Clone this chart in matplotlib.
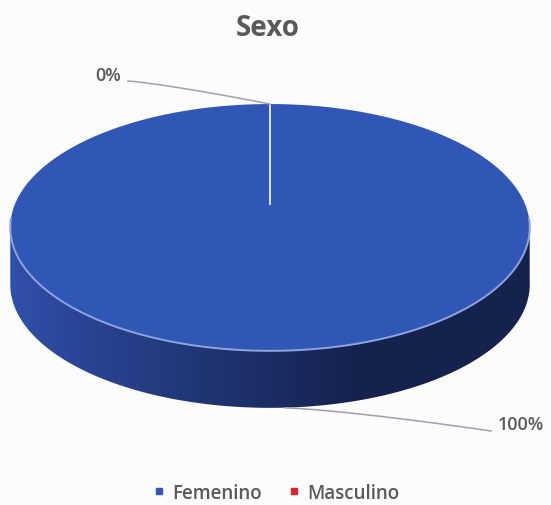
import numpy as np
import matplotlib
matplotlib.use('Agg')
import matplotlib.pyplot as plt
from matplotlib.patches import Polygon
from matplotlib.lines import Line2D

# data
categories = ['Femenino', 'Masculino']
values = [100, 0]
colors = ['#3157b6', '#d9262e']
title = 'Sexo'

W, H = 551, 506
grey = '#595959'

# simple perspective for the pie disk (pixel coords, y down)
cx, cy = 270.0, 205.0
k = -0.19      # perspective strength
a = 255.0      # horizontal radius
b = 80.0
depth = 57.0

def proj(u, v):
  den = 1 + k * v
  return cx + a * u / den, (cy + b * v) / den

def rim(phi):
  # phi in degrees, 0 at the top, clockwise
  r = np.radians(phi)
  return proj(np.sin(r), -np.cos(r))

fig = plt.figure(figsize=(W / 100, H / 100), dpi=100)
fig.patch.set_facecolor('#fcfcfd')
ax = fig.add_axes([0, 0, 1, 1])
ax.set_xlim(0, W)
ax.set_ylim(H, 0)
ax.axis('off')

total = float(sum(values))
fracs = [v / total for v in values]
starts = np.cumsum([0] + fracs[:-1]) * 360
ends = starts + np.array(fracs) * 360

# visible side: front part of the rim
phi_l = np.degrees(np.arcsin(-k)) + 90
phi_r = 360 - phi_l
for s, e, c, f in zip(starts, ends, colors, fracs):
  if f <= 0:
    continue
  lo, hi = max(s, phi_l), min(e, phi_r)
  if hi <= lo:
    continue
  ph = np.linspace(lo, hi, 200)
  xs, ys = rim(ph)
  pts = np.concatenate([np.column_stack([xs, ys]),
                        np.column_stack([xs, ys + depth])[::-1]])
  side = Polygon(pts, closed=True, facecolor='none', edgecolor='none')
  ax.add_patch(side)
  # gradient: lighter on the left, dark navy to the right
  grad = np.linspace(0, 1, 256)
  c0 = np.array([48, 80, 172]) / 255
  c1 = np.array([22, 34, 78]) / 255
  t = np.clip(grad * 1.5, 0, 1) ** 0.9
  img = (c0[None, :] * (1 - t[:, None]) + c1[None, :] * t[:, None])[None, :, :]
  im = ax.imshow(img, extent=[xs.min(), xs.max(), ys.max() + depth, ys.min()],
                 aspect='auto', zorder=1, interpolation='bilinear')
  im.set_clip_path(side)

# top faces
for s, e, c, f in zip(starts, ends, colors, fracs):
  if f <= 0:
    continue
  ph = np.linspace(s, e, 400)
  xs, ys = rim(ph)
  pts = np.column_stack([np.r_[cx, xs, cx], np.r_[cy, ys, cy]])
  ax.add_patch(Polygon(pts, closed=True, facecolor=c, edgecolor='none', zorder=2))

# light edge along the front of the top face
ph = np.linspace(phi_l - 4, phi_r + 4, 200)
xs, ys = rim(ph)
ax.plot(xs, ys, color='#8ea4dc', lw=1.4, zorder=3)

# wedge boundaries (white)
for s in starts:
  x1, y1 = rim(s)
  ax.plot([cx, x1], [cy, y1], color='#dfe6f7', lw=1.2, zorder=3)

# data labels with leader lines
lab_pos = [(521, 425), (108, 76)]
for s, e, f, (tx, ty) in zip(starts, ends, fracs, lab_pos):
  mid = (s + e) / 2
  x1, y1 = rim(mid)
  if f > 0:
    y1 += depth
  txt = '%d%%' % round(f * 100)
  ax.text(tx, ty, txt, ha='center', va='center', fontsize=13,
          fontweight='semibold', color=grey, family='Open Sans', zorder=4)
  if tx > cx:
    lx = tx - 30
    xx = np.linspace(x1 + 15, lx, 50)
    yy = y1 + (ty + 7 - y1) * ((xx - x1 - 15) / (lx - x1 - 15)) ** 1.3
  else:
    lx = tx + 20
    xx = np.linspace(lx, x1, 50)
    yy = ty + 6 + (y1 - ty - 6) * ((xx - lx) / (x1 - lx)) ** 1.2
  ax.plot(xx, yy, color='#a09fab', lw=1.1, zorder=4)

ax.text(W / 2 - 8, 28, title, ha='center', va='center', fontsize=20,
        fontweight='bold', color=grey, family='Open Sans')

handles = [Line2D([], [], marker='s', ls='none', color=c, markersize=4.5)
           for c in colors]
fig.legend(handles, categories, loc='center', bbox_to_anchor=(0.5, 1 - 494 / H),
           ncol=2, frameon=False, handletextpad=0.3, columnspacing=1.3,
           handlelength=0.8,
           prop={'family': 'Open Sans', 'size': 13.5, 'weight': 'semibold'},
           labelcolor=grey)

fig.savefig('out.png', dpi=100, facecolor=fig.get_facecolor())
